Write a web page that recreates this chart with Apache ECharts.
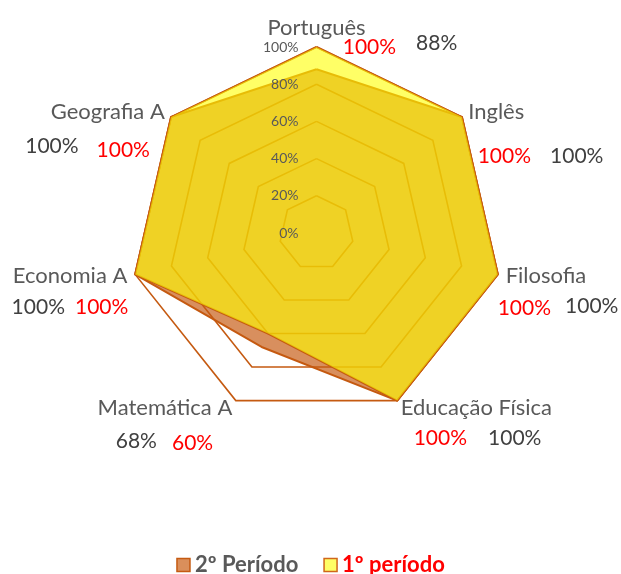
<!DOCTYPE html>
<html><head><meta charset="utf-8">
<script src="https://cdn.jsdelivr.net/npm/echarts@6/dist/echarts.min.js"></script>
<style>html,body{margin:0;padding:0;background:#fff}#c{width:621px;height:574px}</style>
</head><body><div id="c"></div>
<script>
// ---- data (ECharts radar order: top, then counter-clockwise) ----
const subjects = ['Português','Geografia A','Economia A','Matemática A','Educação Física','Filosofia','Inglês'];
const periodo2 = [88, 100, 100, 68, 100, 100, 100];   // 2º Período
const periodo1 = [100, 100, 100, 60, 100, 100, 100];  // 1º período
const seriesNames = ['2º Período', '1º período'];
const axisMax = 100;

// ---- layout of value labels relative to axis-name anchor of label radar ----
const labelLayout = [
  {dx: 83.5, dy: 14,   gap: 20, first: 'r', na: 2,  nb: -2},  // Português
  {dx: -71,  dy: 41,   gap: 18, first: 'g', na: -2, nb: 2},   // Geografia A
  {dx: -49.6,dy: 29.6, gap: 10, first: 'g', na: 0,  nb: 0},   // Economia A
  {dx: -64.4,dy: 27,   gap: 15, first: 'g', na: -1, nb: 1},   // Matemática A
  {dx: 73.4, dy: 23.5, gap: 21, first: 'r', na: 0,  nb: 0},   // Educação Física
  {dx: 44.6, dy: 29.1, gap: 14, first: 'r', na: 1,  nb: -1},  // Filosofia
  {dx: 66.1, dy: 48.9, gap: 19, first: 'r', na: 0,  nb: 0}    // Inglês
];

const FONT = 'Lato';
const CX = 316.5, CY = 233, R = 186;
const RED = '#FF0000', GRAY = '#404040';
const LFS = 21;

const rich = {};
labelLayout.forEach((L, i) => {
  const pl = Math.max(L.dx, 0) * 2, pr = Math.max(-L.dx, 0) * 2;
  const pt = L.dy - LFS / 2;
  const cA = L.first === 'r' ? RED : GRAY, cB = L.first === 'r' ? GRAY : RED;
  rich['a' + i] = {color: cA, fontSize: LFS, fontFamily: FONT, verticalAlign: 'top', padding: [Math.max(pt + L.na, 0), L.gap, 0, pl]};
  rich['b' + i] = {color: cB, fontSize: LFS, fontFamily: FONT, verticalAlign: 'top', padding: [Math.max(pt + L.nb, 0), pr, 0, 0]};
});

const chart = echarts.init(document.getElementById('c'), null, {renderer: 'canvas'});
chart.setOption({
  animation: false,
  backgroundColor: '#fff',
  radar: [{
    center: [CX, CY], radius: R, shape: 'polygon', splitNumber: 5, nameGap: 8, startAngle: 90,
    indicator: subjects.map(n => ({name: n, min: 0, max: axisMax})),
    axisName: {color: '#595959', fontSize: 22, fontFamily: FONT},
    splitLine: {lineStyle: {color: '#C55A11', width: 1.6}},
    splitArea: {show: false},
    axisLine: {show: false},
    axisTick: {show: false},
    axisLabel: {show: false}
  }, {
    center: [CX, CY], radius: R, shape: 'polygon', splitNumber: 5, nameGap: 16, startAngle: 90, silent: true, z: 5,
    indicator: subjects.map((n, i) => i === 0
      ? {name: n, min: 0, max: axisMax, axisLabel: {show: true}}
      : {name: n, min: 0, max: axisMax}),
    axisName: {
      align: 'center', verticalAlign: 'top', rich: rich,
      formatter: function (name) {
        const i = subjects.indexOf(name);
        const L = labelLayout[i];
        const red = periodo1[i] + '%', gray = periodo2[i] + '%';
        const ta = L.first === 'r' ? red : gray, tb = L.first === 'r' ? gray : red;
        return '{a' + i + '|' + ta + '}{b' + i + '|' + tb + '}';
      }
    },
    splitLine: {show: false}, splitArea: {show: false}, axisLine: {show: false},
    axisTick: {show: false},
    axisLabel: {show: false, formatter: '{value}%', color: '#595959', fontSize: 14, fontFamily: FONT, margin: 18}
  }],
  legend: {
    top: 549, left: 'center', icon: 'rect', itemWidth: 13, itemHeight: 13, itemGap: 25,
    textStyle: {fontFamily: FONT, fontSize: 22, fontWeight: 'bold'},
    data: [
      {name: seriesNames[0], itemStyle: {color: '#DA8F5B', borderColor: '#C55A11', borderWidth: 1.5, opacity: 1}, textStyle: {color: '#595959'}},
      {name: seriesNames[1], itemStyle: {color: '#FFFF66', borderColor: '#D0661A', borderWidth: 1.5, opacity: 1}, textStyle: {color: '#FF0000'}}
    ]
  },
  series: [{
    type: 'radar', radarIndex: 0, name: seriesNames[0], symbol: 'none',
    data: [{value: periodo2, name: seriesNames[0]}],
    lineStyle: {color: '#C55A11', width: 2},
    areaStyle: {color: '#C55A11', opacity: 0.68},
    itemStyle: {color: '#DA8F5B'}
  }, {
    type: 'radar', radarIndex: 0, name: seriesNames[1], symbol: 'none',
    data: [{value: periodo1, name: seriesNames[1]}],
    lineStyle: {color: '#C55A11', width: 2},
    areaStyle: {color: '#FFFF00', opacity: 0.6},
    itemStyle: {color: '#FFFF66'}
  }]
});
</script>
</body></html>
